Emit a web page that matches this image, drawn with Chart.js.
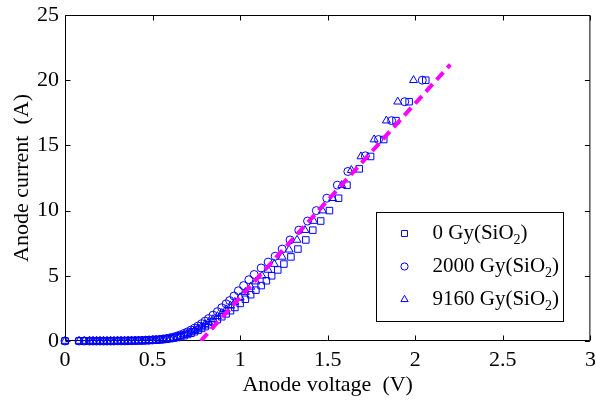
<!DOCTYPE html>
<html>
<head>
<meta charset="utf-8">
<script src="https://cdn.jsdelivr.net/npm/chart.js@4/dist/chart.umd.min.js"></script>
<style>
  html, body { margin: 0; padding: 0; background: #fff; }
  #wrap { width: 596px; height: 401px; }
</style>
</head>
<body>
<div id="wrap"><canvas id="ivChart" width="596" height="401"></canvas></div>
<script>
/* ================= DATA ================= */
// anode voltage (V) / anode current (A) for each dose
const v0Gy = [0, 0.08, 0.11, 0.14, 0.16, 0.18, 0.2, 0.22, 0.24, 0.26, 0.28, 0.3, 0.32, 0.34, 0.36, 0.38, 0.4, 0.42, 0.44, 0.46,
    0.48, 0.5, 0.52, 0.54, 0.56, 0.58, 0.6, 0.62, 0.64, 0.66, 0.68, 0.7, 0.72, 0.74, 0.76, 0.78, 0.8, 0.82, 0.845, 0.87,
    0.895, 0.92, 0.945, 0.97, 1.0, 1.03, 1.06, 1.09, 1.12, 1.15, 1.18, 1.215, 1.25, 1.29, 1.33, 1.375, 1.415, 1.46, 1.51,
    1.562, 1.61, 1.68, 1.745, 1.82, 1.89, 1.965, 2.06];
const i0Gy = [0, 0, 0, 0, 0, 0, 0, 0, 0, 0, 0, 0.01, 0.01, 0.01, 0.01, 0.02, 0.02, 0.03, 0.03, 0.04,
    0.05, 0.06, 0.07, 0.09, 0.11, 0.14, 0.18, 0.22, 0.27, 0.33, 0.41, 0.5, 0.6, 0.71, 0.83, 0.96, 1.1, 1.25, 1.44, 1.64,
    1.86, 2.08, 2.32, 2.57, 2.88, 3.2, 3.55, 3.9, 4.25, 4.62, 5.0, 5.45, 5.9, 6.45, 7.05, 7.75, 8.5, 9.2, 10.0,
    10.95, 11.95, 13.2, 14.15, 15.45, 16.9, 18.35, 20.0];

const v2000Gy = [0, 0.08, 0.11, 0.14, 0.16, 0.18, 0.2, 0.22, 0.24, 0.26, 0.28, 0.3, 0.32, 0.34, 0.36, 0.38, 0.4, 0.42, 0.44, 0.46,
    0.48, 0.5, 0.52, 0.54, 0.56, 0.58, 0.6, 0.62, 0.64, 0.66, 0.68, 0.7, 0.72, 0.74, 0.76, 0.78, 0.8, 0.82, 0.845, 0.87,
    0.895, 0.92, 0.94, 0.965, 0.99, 1.02, 1.05, 1.08, 1.12, 1.16, 1.2, 1.24, 1.285, 1.335, 1.385, 1.435, 1.495, 1.555, 1.615,
    1.715, 1.79, 1.865, 1.94, 2.04];
const i2000Gy = [0, 0, 0, 0, 0, 0, 0, 0, 0, 0, 0, 0.01, 0.01, 0.01, 0.02, 0.02, 0.03, 0.03, 0.04, 0.05,
    0.06, 0.08, 0.1, 0.12, 0.15, 0.19, 0.24, 0.3, 0.38, 0.47, 0.58, 0.7, 0.84, 0.99, 1.15, 1.33, 1.52, 1.72, 1.98, 2.25,
    2.55, 2.85, 3.1, 3.45, 3.85, 4.25, 4.7, 5.1, 5.6, 6.05, 6.5, 7.05, 7.75, 8.5, 9.2, 10.0, 10.95, 11.95, 13.0,
    14.2, 15.45, 16.9, 18.35, 20.0];

const v9160Gy = [0, 0.08, 0.11, 0.14, 0.16, 0.18, 0.2, 0.22, 0.24, 0.26, 0.28, 0.3, 0.32, 0.34, 0.36, 0.38, 0.4, 0.42, 0.44, 0.46,
    0.48, 0.5, 0.52, 0.54, 0.56, 0.58, 0.6, 0.62, 0.64, 0.66, 0.68, 0.7, 0.72, 0.74, 0.76, 0.78, 0.8, 0.82, 0.845, 0.87,
    0.895, 0.92, 0.945, 0.97, 1.0, 1.03, 1.06, 1.09, 1.125, 1.16, 1.195, 1.24, 1.28, 1.325, 1.37, 1.42, 1.47, 1.528, 1.58,
    1.635, 1.69, 1.765, 1.835, 1.9, 1.99];
const i9160Gy = [0, 0, 0, 0, 0, 0, 0, 0, 0, 0, 0, 0.01, 0.01, 0.01, 0.01, 0.02, 0.02, 0.03, 0.03, 0.04,
    0.05, 0.06, 0.08, 0.1, 0.12, 0.16, 0.2, 0.25, 0.31, 0.39, 0.48, 0.58, 0.7, 0.83, 0.97, 1.12, 1.28, 1.45, 1.66, 1.9,
    2.15, 2.42, 2.7, 3.0, 3.35, 3.75, 4.15, 4.55, 5.0, 5.45, 5.9, 6.45, 7.0, 7.75, 8.5, 9.2, 10.0, 10.95, 11.95,
    13.1, 14.15, 15.45, 16.9, 18.35, 20.0];

// linear fit of the on-state region
const fitV = [0.775, 2.2];
const fitI = [0, 21.2];

const doseLabels = ["0 Gy", "2000 Gy", "9160 Gy"];
const xTicks = [0, 0.5, 1, 1.5, 2, 2.5, 3];
const yTicks = [0, 5, 10, 15, 20, 25];

/* ================= STYLE ================= */
const SERIF = "'Liberation Serif', 'Times New Roman', serif";
const BLUE = "#0000ff";
const markerStyles = ["rect", "circle", "triangle"];
const markerRadius = [4.6, 4, 4.6];

const toPoints = (vs, is) => vs.map((v, k) => ({ x: v, y: is[k] }));

function markerDataset(k, vs, is) {
    return {
        type: "scatter",
        label: doseLabels[k],
        data: toPoints(vs, is),
        pointStyle: markerStyles[k],
        pointRadius: markerRadius[k],
        pointBorderColor: BLUE,
        pointBackgroundColor: "rgba(0,0,0,0)",
        pointBorderWidth: 1,
        showLine: false,
        clip: false,
        order: 1
    };
}

/* ================= PLUGINS ================= */
// box around the plot with inward ticks on all four sides
const frameBox = {
    id: "frameBox",
    beforeDatasetsDraw(chart) {
        const { ctx, chartArea: a, scales: { x, y } } = chart;
        const L = a.left + 0.5, R = a.right - 0.5, T = a.top + 0.5, B = a.bottom - 0.5;
        ctx.save();
        ctx.strokeStyle = "#000";
        ctx.lineWidth = 1;
        ctx.beginPath();
        xTicks.forEach(v => {
            const px = Math.round(x.getPixelForValue(v)) + 0.5;
            ctx.moveTo(px, B); ctx.lineTo(px, B - 5);
            ctx.moveTo(px, T); ctx.lineTo(px, T + 5);
        });
        yTicks.forEach(v => {
            const py = Math.round(y.getPixelForValue(v)) + 0.5;
            ctx.moveTo(L, py); ctx.lineTo(L + 5, py);
            ctx.moveTo(R, py); ctx.lineTo(R - 5, py);
        });
        ctx.rect(L, T, R - L, B - T);
        ctx.stroke();
        ctx.restore();
    }
};

function drawMarker(ctx, style, r, cx, cy) {
    ctx.beginPath();
    if (style === "rect") {
        const h = r * Math.SQRT1_2;
        ctx.rect(cx - h, cy - h, 2 * h, 2 * h);
    } else if (style === "circle") {
        ctx.arc(cx, cy, r, 0, Math.PI * 2);
    } else {
        for (let n = 0; n < 3; n++) {
            const ang = n * 2 * Math.PI / 3;
            const px = cx + Math.sin(ang) * r, py = cy - Math.cos(ang) * r;
            n === 0 ? ctx.moveTo(px, py) : ctx.lineTo(px, py);
        }
        ctx.closePath();
    }
    ctx.stroke();
}

// legend box in the lower right, label text with SiO2 subscript
const doseLegend = {
    id: "doseLegend",
    afterDraw(chart) {
        const { ctx, chartArea: a } = chart;
        const boxW = 187, boxH = 109;
        const bx = Math.round(a.right - 27 - boxW) + 0.5;
        const by = Math.round(a.bottom - 20 - boxH) + 0.5;
        ctx.save();
        ctx.fillStyle = "#fff";
        ctx.fillRect(bx, by, boxW, boxH);
        ctx.strokeStyle = "#000";
        ctx.lineWidth = 1;
        ctx.strokeRect(bx, by, boxW, boxH);

        doseLabels.forEach((lab, k) => {
            const cy = by + 21 + k * 33;
            ctx.strokeStyle = BLUE;
            ctx.lineWidth = 1;
            drawMarker(ctx, markerStyles[k], k === 1 ? 3.6 : 4.2, bx + 28, cy);

            ctx.fillStyle = "#000";
            ctx.textBaseline = "middle";
            ctx.textAlign = "left";
            ctx.font = "21px " + SERIF;
            let tx = bx + 56;
            const head = lab + "(SiO";
            ctx.fillText(head, tx, cy);
            tx += ctx.measureText(head).width;
            ctx.font = "14px " + SERIF;
            ctx.fillText("2", tx, cy + 7);
            tx += ctx.measureText("2").width;
            ctx.font = "21px " + SERIF;
            ctx.fillText(")", tx, cy);
        });
        ctx.restore();
    }
};

/* ================= CHART ================= */
const ctx = document.getElementById("ivChart");

new Chart(ctx, {
    type: "scatter",
    data: {
        datasets: [
            {
                type: "line",
                label: "fit",
                data: toPoints(fitV, fitI),
                borderColor: "#ff00ff",
                borderWidth: 4,
                borderDash: [10, 6],
                pointRadius: 0,
                fill: false,
                order: 0
            },
            markerDataset(2, v9160Gy, i9160Gy),
            markerDataset(1, v2000Gy, i2000Gy),
            markerDataset(0, v0Gy, i0Gy)
        ]
    },
    options: {
        responsive: false,
        animation: false,
        layout: { padding: { top: 15, right: 3, left: 0, bottom: 0 } },
        plugins: {
            legend: { display: false },
            tooltip: { enabled: false }
        },
        scales: {
            x: {
                type: "linear",
                min: 0,
                max: 3,
                grid: { display: false, drawTicks: false },
                border: { display: false },
                ticks: {
                    stepSize: 0.5,
                    padding: 6,
                    maxRotation: 0,
                    color: "#000",
                    font: { family: SERIF, size: 22 },
                    callback: v => String(v)
                },
                title: {
                    display: true,
                    text: "Anode voltage  (V)",
                    color: "#000",
                    font: { family: SERIF, size: 22 },
                    padding: { top: 0, bottom: 3 }
                },
                afterFit(scale) {
                    scale.height = 60;
                    scale.paddingLeft = 0;
                    scale.paddingRight = 0;
                }
            },
            y: {
                type: "linear",
                min: 0,
                max: 25,
                grid: { display: false, drawTicks: false },
                border: { display: false },
                ticks: {
                    stepSize: 5,
                    padding: 6,
                    color: "#000",
                    font: { family: SERIF, size: 22 },
                    callback: v => String(v)
                },
                title: {
                    display: true,
                    text: "Anode current  (A)",
                    color: "#000",
                    font: { family: SERIF, size: 22 },
                    padding: { top: 9, bottom: 0 }
                },
                afterFit(scale) {
                    scale.width = 65;
                    scale.paddingTop = 0;
                    scale.paddingBottom = 0;
                }
            }
        }
    },
    plugins: [frameBox, doseLegend]
});
</script>
</body>
</html>
